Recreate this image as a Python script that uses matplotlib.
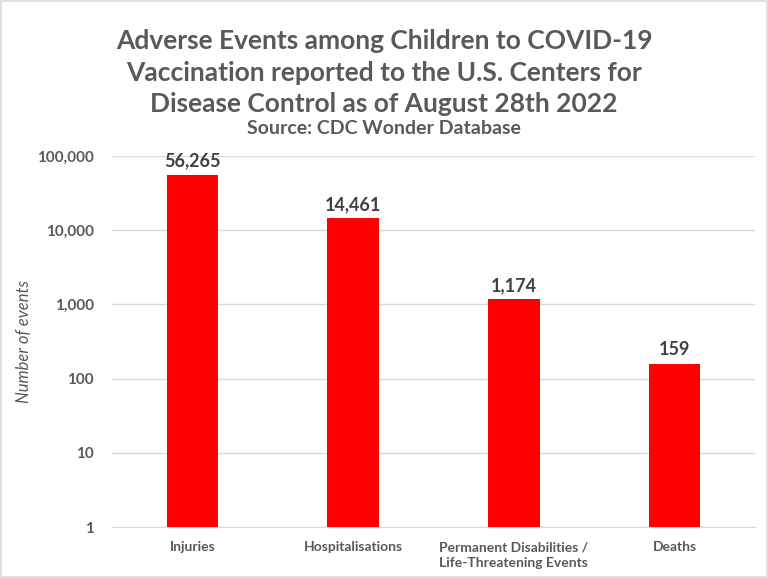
import matplotlib.pyplot as plt
from matplotlib.ticker import FixedLocator, FuncFormatter
from matplotlib.patches import Rectangle

categories = ["Injuries", "Hospitalisations", "Permanent Disabilities /\nLife-Threatening Events", "Deaths"]
values = [56265, 14461, 1174, 159]
yticks = [1, 10, 100, 1000, 10000, 100000]

plt.rcParams['font.family'] = ['Lato', 'DejaVu Sans']
grey = '#595959'

fig = plt.figure(figsize=(7.68, 5.78), dpi=100)
fig.patches.append(Rectangle((0.001, 0.001), 0.998, 0.998, transform=fig.transFigure,
                             fill=False, edgecolor='#d9d9d9', linewidth=1.2))
ax = fig.add_axes([0.146, 0.088, 0.837, 0.642])

x = range(len(categories))
bars = ax.bar(x, values, width=0.32, color='#ff0000', zorder=3)
ax.set_yscale('log')
ax.set_ylim(1, 100000)
ax.set_xlim(-0.5, len(categories) - 0.5)
ax.yaxis.set_major_locator(FixedLocator(yticks))
ax.yaxis.set_minor_locator(FixedLocator([]))
ax.yaxis.set_major_formatter(FuncFormatter(lambda v, p: f"{int(v):,}"))
ax.grid(axis='y', color='#d9d9d9', linewidth=1, zorder=0)

for s in ['top', 'right', 'left']:
    ax.spines[s].set_visible(False)
ax.spines['bottom'].set_color('#d9d9d9')
ax.tick_params(axis='both', length=0)
ax.tick_params(axis='y', pad=13, labelsize=11, labelcolor=grey)
ax.tick_params(axis='x', pad=10, labelsize=10, labelcolor=grey)
for lab in ax.get_yticklabels():
    lab.set_fontweight('bold')
ax.set_xticks(list(x))
ax.set_xticklabels(categories, fontweight='bold', linespacing=1.35)

for b, v in zip(bars, values):
    ax.annotate(f"{v:,}", (b.get_x() + b.get_width() / 2, v), xytext=(0, 4),
                textcoords='offset points', ha='center', va='bottom',
                fontsize=13, fontweight='bold', color='#404040')

ax.set_ylabel("Number of events", fontsize=12, style='italic', color=grey)
ax.yaxis.set_label_coords(-0.125, 0.5)

fig.text(0.5, 0.874, "Adverse Events among Children to COVID-19\nVaccination reported to the U.S. Centers for\nDisease Control as of August 28th 2022",
         ha='center', va='center', fontsize=19, fontweight='bold', color=grey, linespacing=1.38)
fig.text(0.5, 0.778, "Source: CDC Wonder Database", ha='center', va='center',
         fontsize=14, fontweight='bold', color=grey)

fig.savefig('out.png', dpi=100)
